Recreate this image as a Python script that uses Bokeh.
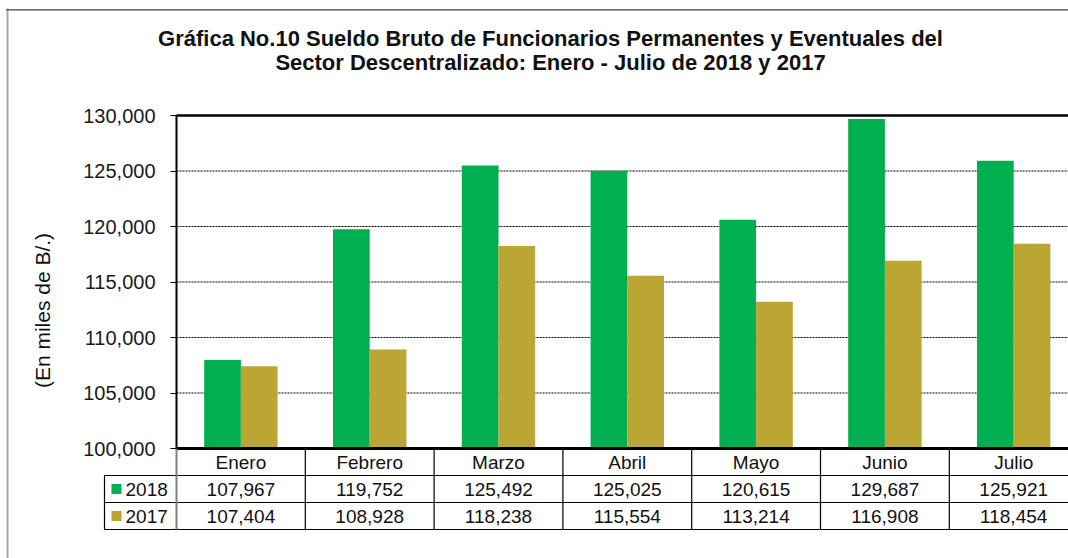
import math
from bokeh.plotting import figure
from bokeh.models import (Range1d, FixedTicker, NumeralTickFormatter, Label, ColumnDataSource,
                          LinearAxis, BoxAnnotation)
from bokeh.transform import dodge
from bokeh.core.properties import value
from bokeh.embed import file_html
from bokeh.resources import INLINE

# ---------------- data ----------------
months = ["Enero", "Febrero", "Marzo", "Abril", "Mayo", "Junio", "Julio"]
series_names = ["2018", "2017"]
values_2018 = [107967, 119752, 125492, 125025, 120615, 129687, 125921]
values_2017 = [107404, 108928, 118238, 115554, 113214, 116908, 118454]
y_ticks = [100000, 105000, 110000, 115000, 120000, 125000, 130000]
title_lines = [
    "Gráfica No.10 Sueldo Bruto de Funcionarios Permanentes y Eventuales del",
    "Sector Descentralizado: Enero - Julio de 2018 y 2017",
]
y_label_text = "(En miles de B/.)"

# ---------------- layout / style constants (pixels) ----------------
FONT = "Liberation Sans"
GREEN = "#00B050"
GOLD = "#BBA633"
W, H = 1068, 558
X0 = 176          # page x of the plot-area left edge
CW = 128.8        # px per category
PY_TOP, PY_BASE = 115, 448     # page y of top / bottom of the plot area
PY_TBOT = 529                   # page y of the bottom of the data table
ROW_PX = (PY_TBOT - PY_BASE) / 3
LEG_LEFT = 104                  # page x of legend-cell left edge
BAR_W = 0.285

k = (PY_BASE - PY_TOP) / (y_ticks[-1] - y_ticks[0])     # px per value unit
x_end = (W - X0) / CW

p = figure(width=W, height=H, output_backend="svg", toolbar_location=None,
           x_range=Range1d(-X0 / CW, x_end),
           y_range=Range1d(y_ticks[0] - (H - PY_BASE) / k, y_ticks[-1] + PY_TOP / k),
           x_axis_location=None, y_axis_location=None,
           min_border=0, min_border_left=0, min_border_right=0,
           min_border_top=0, min_border_bottom=0)
p.extra_y_ranges = {"table": Range1d(-(H - PY_TBOT) / ROW_PX, 3 + PY_BASE / ROW_PX)}
p.outline_line_color = None
p.grid.visible = False

# outer chart-area border (left grey, top dark)
p.add_layout(BoxAnnotation(left=6, right=8, bottom=-20, top=H - 8,
                           left_units="screen", right_units="screen",
                           bottom_units="screen", top_units="screen",
                           fill_color="#a6a6a6", fill_alpha=1, line_color=None))
p.add_layout(BoxAnnotation(left=6, right=W + 20, bottom=H - 10, top=H - 8.7,
                           left_units="screen", right_units="screen",
                           bottom_units="screen", top_units="screen",
                           fill_color="#404040", fill_alpha=1, line_color=None))

src = ColumnDataSource(dict(x=[i + 0.5 for i in range(len(months))], m=months,
                            v18=values_2018, v17=values_2017,
                            base=[y_ticks[0]] * len(months),
                            t18=[f"{v:,}" for v in values_2018],
                            t17=[f"{v:,}" for v in values_2017]))

# gridlines (dotted) between first and last tick
p.segment(x0=0, x1=x_end, y0=y_ticks[1:-1], y1=y_ticks[1:-1],
          line_color="black", line_width=1, line_dash="2 1")

# bars
p.vbar(x=dodge("x", -BAR_W / 2, range=p.x_range), top="v18", bottom="base",
       width=BAR_W, source=src, fill_color=GREEN, line_color=None)
p.vbar(x=dodge("x", BAR_W / 2, range=p.x_range), top="v17", bottom="base",
       width=BAR_W, source=src, fill_color=GOLD, line_color=None)

# plot-area top and base lines
p.segment(x0=0, x1=x_end, y0=y_ticks[-1], y1=y_ticks[-1], line_color="#9a9a9a", line_width=1)
p.segment(x0=0, x1=x_end, y0=y_ticks[-1], y1=y_ticks[-1], line_color="black", line_width=2.5)
p.segment(x0=0, x1=x_end, y0=y_ticks[0], y1=y_ticks[0], line_color="black", line_width=3)

# y axis fixed at the plot-area left edge
ax = LinearAxis(fixed_location=0, bounds=(y_ticks[0], y_ticks[-1]),
                ticker=FixedTicker(ticks=y_ticks),
                formatter=NumeralTickFormatter(format="0,0"))
ax.axis_line_color = "black"
ax.axis_line_width = 2
ax.major_tick_in = 0
ax.major_tick_out = 6
ax.major_tick_line_color = "black"
ax.minor_tick_line_color = None
ax.major_label_text_font = FONT
ax.major_label_text_font_size = "20px"
ax.major_label_text_color = "#1a1a1a"
ax.major_label_standoff = 15
p.add_layout(ax, "left")

# title and y label
for txt, py in zip(title_lines, [37.5, 61.5]):
    p.add_layout(Label(x=550, y=H - py, x_units="screen", y_units="screen", text=txt,
                       text_font=FONT, text_font_style="bold", text_font_size="22px",
                       text_align="center", text_baseline="middle", text_color="#111111"))
p.add_layout(Label(x=42, y=H - 310, x_units="screen", y_units="screen", text=y_label_text,
                   angle=math.pi / 2, text_font=FONT, text_font_size="21px",
                   text_align="center", text_baseline="middle", text_color="#111111"))

# ---------------- data table ----------------
n = len(months)
leg_x = -(X0 - LEG_LEFT) / CW
T = "table"
p.segment(x0=[leg_x] * 3, x1=[x_end] * 3, y0=[0, 1, 2], y1=[0, 1, 2],
          line_color="black", line_width=1.2, y_range_name=T)
p.segment(x0=[leg_x], x1=[leg_x], y0=[0], y1=[2], line_color="black", line_width=1.2,
          y_range_name=T)
p.segment(x0=[0], x1=[0], y0=[0], y1=[3], line_color="#7f7f7f", line_width=2, y_range_name=T)
p.segment(x0=list(range(1, n + 1)), x1=list(range(1, n + 1)), y0=[0] * n, y1=[3] * n,
          line_color="black", line_width=1.2, y_range_name=T)

common = dict(text_font=value(FONT), text_font_size="19px", text_color="#111111",
              text_baseline="middle", y_range_name=T)
p.text(x="x", y=2.5, text="m", source=src, text_align="center", **common)
p.text(x="x", y=1.5, text="t18", source=src, text_align="center", **common)
p.text(x="x", y=0.5, text="t17", source=src, text_align="center", **common)

leg = ColumnDataSource(dict(x=[leg_x + 12 / CW] * 2, tx=[leg_x + 21 / CW] * 2,
                            y=[1.5, 0.5], name=series_names, c=[GREEN, GOLD]))
p.scatter(x="x", y="y", marker="square", size=10, fill_color="c", line_color=None,
          source=leg, y_range_name=T)
p.text(x="tx", y="y", text="name", source=leg, text_align="left", **common)

open("out.html", "w").write(file_html(p, INLINE))
